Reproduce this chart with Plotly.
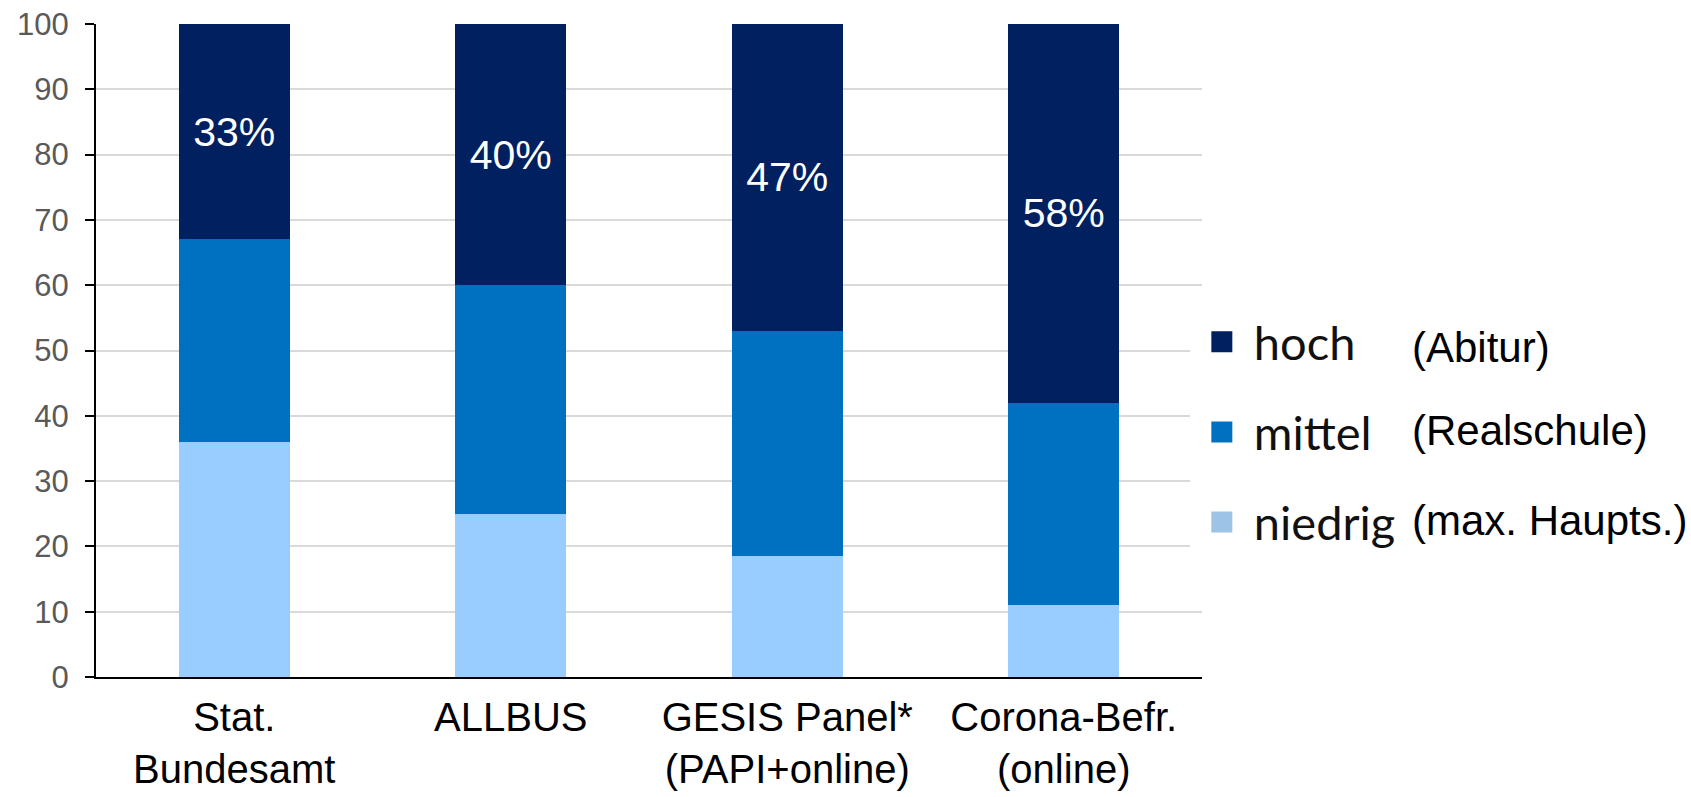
import plotly.graph_objects as go

categories = ["Stat.<br>Bundesamt", "ALLBUS", "GESIS Panel*<br>(PAPI+online)", "Corona-Befr.<br>(online)"]
niedrig = [36, 25, 18.5, 11]
mittel = [31, 35, 34.5, 31]
hoch = [33, 40, 47, 58]
series_names = ["niedrig", "mittel", "hoch"]
series_notes = ["(max. Haupts.)", "(Realschule)", "(Abitur)"]
colors = ["#99CCFF", "#0070C0", "#002060"]
legend_colors = ["#9DC3E6", "#0070C0", "#002060"]

fig = go.Figure()
for name, vals, col in zip(series_names, [niedrig, mittel, hoch], colors):
    fig.add_trace(go.Bar(
        x=categories, y=vals, name=name, marker=dict(color=col, line=dict(width=0)),
        showlegend=False,
        text=[f"{v:.0f}%" for v in vals] if name == "hoch" else None,
        textposition="inside" if name == "hoch" else "none",
        insidetextanchor="middle",
        textfont=dict(family="Liberation Sans, Arial", size=41, color="white"),
        hoverinfo="skip",
    ))

# legend entries (hoch on top)
for name, col in zip(series_names[::-1], legend_colors[::-1]):
    fig.add_trace(go.Scatter(
        x=[None], y=[None], mode="markers", name=name, legendgroup=name,
        marker=dict(symbol="square", size=16, color=col, line=dict(color=col, width=5)),
        showlegend=True,
    ))

fig.update_layout(
    width=1691, height=797,
    barmode="stack", bargap=0.6,
    plot_bgcolor="white", paper_bgcolor="white",
    margin=dict(l=96, r=489, t=24, b=120),
    showlegend=True,
    legend=dict(
        x=0.989, y=0.570, xanchor="left", yanchor="top",
        traceorder="grouped", tracegroupgap=26,
        font=dict(family="Lato", size=47, color="#111111"),
        bgcolor="white", itemwidth=54,
    ),
    uniformtext=dict(mode=False),
)
fig.update_yaxes(
    range=[0, 100], dtick=10, showgrid=True, gridcolor="#D9D9D9", gridwidth=2,
    showline=True, linecolor="black", linewidth=2,
    ticks="outside", ticklen=9, tickcolor="black", tickwidth=2,
    tickfont=dict(family="Liberation Sans, Arial", size=31, color="#595959"),
    ticklabelstandoff=10,
    zeroline=False, automargin=False,
)
fig.update_xaxes(
    showline=True, linecolor="black", linewidth=2, ticks="",
    tickfont=dict(family="Liberation Sans, Arial", size=40, color="black"),
    ticklabelstandoff=4, automargin=False,
)

ypos = [0.240, 0.377, 0.504]
xpos = [1.188, 1.188, 1.188]
for note, xp, yp in zip(series_notes, xpos, ypos):
    fig.add_annotation(
        text=note, xref="paper", yref="paper", x=xp,
        y=yp, xanchor="left", yanchor="middle", showarrow=False,
        font=dict(family="Liberation Sans, Arial", size=42, color="black"),
    )

fig.write_html(
    "out.html",
    config={"displayModeBar": False},
    post_script="document.body.style.margin='0';document.body.style.overflow='hidden';",
)
